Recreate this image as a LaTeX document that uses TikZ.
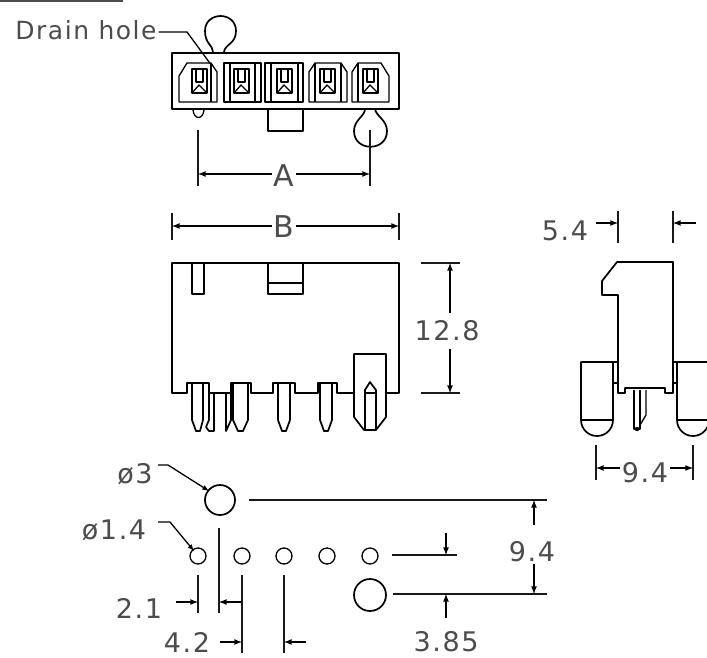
\documentclass[tikz,border=0pt]{standalone}
\usepackage{fontspec}
\setmainfont{DejaVu Sans}
\newfontfamily\cadfont[LetterSpace=6]{DejaVu Sans}
\usetikzlibrary{calc}
\tikzset{
  part/.style = {line width=1.7pt, line join=round},
  thin part/.style = {line width=1.3pt, line join=round},
  extline/.style = {line width=1.6pt, black!90},
  dimline/.style = {line width=1.6pt, -latex},
  dimtext/.style = {text=black!70, font=\cadfont\fontsize{27}{27}\selectfont, inner sep=2pt},
  leadtext/.style = {text=black!70, font=\cadfont\fontsize{25}{25}\selectfont, inner sep=2pt},
  dimletter/.style = {text=black!70, font=\fontsize{30}{30}\selectfont, inner sep=2pt},
}
\begin{document}
\begin{tikzpicture}[x=1pt, y=-1pt]
    \useasboundingbox (0,0) rectangle (707,657);
    \fill[white] (0,0) rectangle (707,657);
    \draw[line width=1.5pt, black!70] (0,1) -- (123,1);

    % top view
    \draw[part] (172,53) rectangle (399,109);
    \draw[thin part] (179,102) -- (179,76) -- (187,63) -- (211,63) -- (217,72) -- (217,102) -- cycle;
    \draw[thin part] (211,63) -- (211,102);
    \draw[thin part] (224,63) rectangle (261,102);
    \draw[thin part] (230,63) -- (230,102);
    \draw[thin part] (255,63) -- (255,102);
    \draw[thin part] (265,63) rectangle (303,102);
    \draw[thin part] (271,63) -- (271,102);
    \draw[thin part] (298,63) -- (298,102);
    \draw[thin part] (309,102) -- (309,72) -- (315,63) -- (341,63) -- (347,72) -- (347,102) -- cycle;
    \draw[thin part] (315,63) -- (315,102);
    \draw[thin part] (341,63) -- (341,102);
    \draw[thin part] (352,102) -- (352,72) -- (358,63) -- (381,63) -- (389,76) -- (389,102) -- cycle;
    \draw[thin part] (358,63) -- (358,102);
    \draw[part] (192,69) rectangle (207,93);
    \draw[part] (234,69) rectangle (249,93);
    \draw[part] (277,69) rectangle (292,93);
    \draw[part] (320,69) rectangle (335,93);
    \draw[part] (363,69) rectangle (378,93);
    \draw[thin part] (196,69) -- (196,82) -- (203,82) -- (203,69);
    \draw[thin part] (192,93) -- (199,85) -- (207,93);
    \draw[thin part] (238,69) -- (238,82) -- (245,82) -- (245,69);
    \draw[thin part] (234,93) -- (241,85) -- (249,93);
    \draw[thin part] (281,69) -- (281,82) -- (288,82) -- (288,69);
    \draw[thin part] (277,93) -- (284,85) -- (292,93);
    \draw[thin part] (324,69) -- (324,82) -- (331,82) -- (331,69);
    \draw[thin part] (320,93) -- (327,85) -- (335,93);
    \draw[thin part] (367,69) -- (367,82) -- (374,82) -- (374,69);
    \draw[thin part] (363,93) -- (370,85) -- (378,93);
    \draw[part] (213,52) .. controls (213,45) and (205,44) .. (205,31)
      .. controls (205,11) and (236,11) .. (236,31)
      .. controls (236,44) and (225,44) .. (224,52);
    \draw[part] (365,109) .. controls (365,116) and (354,120) .. (354,131)
      .. controls (354,152) and (387,152) .. (387,131)
      .. controls (387,120) and (376,116) .. (375,109);
    \draw[thin part] (193,110) .. controls (194,120) and (203,120) .. (204,110);
    \draw[part] (268,109) -- (268,131) -- (303,131) -- (303,109);

    \node[leadtext] (drain) at (86,30) {Drain hole};
    \coordinate (drainend) at (212,66);
    \draw[line width=1.3pt] (drain.east |- 0,32) -- (187,32) -- (drainend);

    % dimension A
    \coordinate (Aleft) at (198,174);
    \coordinate (Aright) at (370,174);
    \node[dimletter] (Alabel) at (284,176) {A};
    \draw[extline] (198,130) -- (198,186);
    \draw[extline] (370,130) -- (370,186);
    \draw[dimline] (Alabel.west |- Aleft) -- (Aleft);
    \draw[dimline] (Alabel.east |- Aright) -- (Aright);

    % dimension B
    \coordinate (Bleft) at (172,226);
    \coordinate (Bright) at (399,226);
    \node[dimletter] (Blabel) at (284,227) {B};
    \draw[extline] (172,213) -- (172,240);
    \draw[extline] (399,213) -- (399,240);
    \draw[dimline] (Blabel.west |- Bleft) -- (Bleft);
    \draw[dimline] (Blabel.east |- Bright) -- (Bright);

    % front view
    \draw[part] (354,393) -- (337,393) -- (337,383) -- (318,383) -- (318,393) -- (295,393) -- (295,383) -- (273,383) -- (273,393) -- (251,393) -- (251,383) -- (231,383) -- (231,393) -- (209,393) -- (209,383) -- (187,383) -- (187,393) -- (172,393) -- (172,263) -- (399,263) -- (399,393) -- (386,393);
    \draw[part] (192,263) -- (192,294) -- (204,294) -- (204,263);
    \draw[part] (268,263) -- (268,294) -- (303,294) -- (303,263);
    \draw[part] (268,283) -- (303,283);
    \draw[part] (192,383) -- (192,420) -- (196,431) -- (200,431) -- (203,420) -- (203,383);
    \draw[part] (209,393) -- (209,420) -- (206,427);
    \draw[part] (214,393) -- (214,431) -- (209,431) -- (206,427);
    \draw[part] (226,393) -- (226,431) -- (231,420) -- (231,393);
    \draw[part] (233,383) -- (233,420) -- (238,431) -- (243,431) -- (248,420) -- (248,383);
    \draw[part] (278,383) -- (278,420) -- (282,431) -- (286,431) -- (290,420) -- (290,383);
    \draw[part] (320,383) -- (320,420) -- (324,431) -- (328,431) -- (332,420) -- (332,383);
    \draw[part] (354,393) -- (354,354) -- (386,354) -- (386,417) -- (376,430) -- (364,430) -- (354,417) -- cycle;
    \draw[part] (365,430) -- (365,390) -- (370,382) -- (376,390) -- (376,430);
    \draw[thin part] (365,393) -- (376,393);

    % dimension 12.8
    \coordinate (Htop) at (450,263);
    \coordinate (Hbot) at (450,393);
    \node[dimtext, inner sep=8pt] (Hlabel) at (447,331) {12.8};
    \draw[extline] (421,263) -- (460,263);
    \draw[extline] (421,393) -- (460,393);
    \draw[dimline] (Hlabel.north -| Htop) -- (Htop);
    \draw[dimline] (Hlabel.south -| Hbot) -- (Hbot);

    % side view
    \draw[part] (673,393) -- (673,262) -- (617,262) -- (602,281) -- (602,295) -- (618,295) -- (618,393) -- (625,393) -- (625,388) -- (665,388) -- (665,393) -- cycle;
    \draw[part] (618,362) -- (581,362) -- (581,420) arc[start angle=180, end angle=0, x radius=16, y radius=16] -- (613,362);
    \draw[part] (581,420) -- (613,420);
    \draw[thin part] (613,383) -- (618,383);
    \draw[part] (673,362) -- (707,362);
    \draw[part] (677,362) -- (677,420) arc[start angle=180, end angle=0, x radius=16, y radius=16];
    \draw[part] (677,420) -- (707,420);
    \draw[thin part] (673,383) -- (677,383);
    \draw[part] (634,390) -- (634,429) -- (640,429) -- (640,390);
    \fill (637,429) circle (2.2);
    \draw[thin part] (646,390) -- (646,415) -- (640,425);

    % dimension 5.4
    \node[dimtext] (Wlabel) at (565,231) {5.4};
    \coordinate (Wleft) at (618,223);
    \coordinate (Wright) at (673,223);
    \coordinate (Wstub) at (696,223);
    \draw[extline] (618,211) -- (618,243);
    \draw[extline] (673,211) -- (673,243);
    \draw[dimline] (596,223) -- (Wleft);
    \draw[dimline] (Wstub) -- (Wright);

    % dimension 9.4 side
    \node[dimtext] (Slabel) at (645,473) {9.4};
    \coordinate (Sleft) at (596,468);
    \coordinate (Sright) at (693,468);
    \draw[extline] (596,445) -- (596,480);
    \draw[extline] (693,445) -- (693,480);
    \draw[dimline] (Slabel.west |- Sleft) -- (Sleft);
    \draw[dimline] (Slabel.east |- Sright) -- (Sright);

    % footprint
    \draw[part] (220,500) circle (15);
    \draw[part] (370,595) circle (16);
    \draw[thin part] (198,556) circle (8);
    \draw[thin part] (242,556) circle (8);
    \draw[thin part] (284,556) circle (8);
    \draw[thin part] (327,556) circle (8);
    \draw[thin part] (370,556) circle (8);

    \node[dimtext] (bigdia) at (135,474) {ø3};
    \node[dimtext] (smalldia) at (114,530) {ø1.4};
    \coordinate (bigend) at (209,491);
    \coordinate (smallend) at (194,551);
    \draw[line width=1.3pt, -latex] (158,465) -- (168,465) -- (bigend);
    \draw[line width=1.3pt, -latex] (158,522) -- (170,522) -- (smallend);

    % dimension 9.4 footprint
    \node[dimtext] (Vlabel) at (532,552) {9.4};
    \coordinate (Vtop) at (534,500);
    \coordinate (Vbot) at (534,594);
    \draw[extline] (249,500) -- (547,500);
    \draw[extline] (393,594) -- (547,594);
    \draw[dimline] (534,525) -- (Vtop);
    \draw[dimline] (534,564) -- (Vbot);

    % dimension 3.85
    \node[dimtext, inner sep=0pt] (Tlabel) at (446,642) {3.85};
    \coordinate (Ttop) at (446,555);
    \coordinate (Tbot) at (446,594);
    \draw[extline] (392,555) -- (457,555);
    \draw[dimline] (446,533) -- (Ttop);
    \draw[dimline] (446,618) -- (Tbot);

    % dimension 2.1
    \node[dimtext] (Plabel) at (139,608) {2.1};
    \coordinate (Pleft) at (198,602);
    \coordinate (Pright) at (219,602);
    \draw[extline] (198,575) -- (198,613);
    \draw[extline] (219,528) -- (219,613);
    \draw[extline] (242,575) -- (242,653);
    \draw[dimline] (176,602) -- (Pleft);
    \draw[dimline] (242,602) -- (Pright);

    % dimension 4.2
    \node[dimtext, inner sep=0pt] (Qlabel) at (187,642) {4.2};
    \coordinate (Qleft) at (242,642);
    \coordinate (Qright) at (284,642);
    \draw[extline] (284,575) -- (284,653);
    \draw[dimline] (220,642) -- (Qleft);
    \draw[dimline] (306,642) -- (Qright);
\end{tikzpicture}
\end{document}
